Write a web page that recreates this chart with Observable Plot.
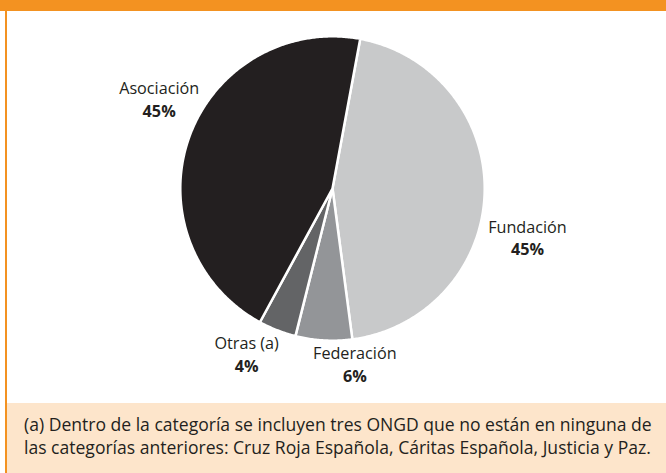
<!DOCTYPE html>
<html>
<head>
<meta charset="utf-8">
<script src="https://cdn.jsdelivr.net/npm/d3@7"></script>
<script src="https://cdn.jsdelivr.net/npm/@observablehq/plot@0.6"></script>
<style>
  html, body { margin: 0; padding: 0; background: #ffffff; }
  #frame { position: relative; width: 666px; height: 473px; overflow: hidden; background: #ffffff; font-family: "Open Sans", Lato, sans-serif; color: #231f20; }
  #topband { position: absolute; left: 0; top: 0; width: 666px; height: 11px; background: #f39221; }
  #leftline { position: absolute; left: 5px; top: 0; width: 2px; height: 473px; background: #f39221; }
  #chart { position: absolute; left: 0; top: 11px; }
  #note { position: absolute; left: 7px; top: 403px; width: 659px; height: 70px; background: #fde5cb; }
  #note p { position: absolute; left: 17px; top: 9.5px; margin: 0; font-size: 16px; line-height: 23px; color: #231f20; white-space: nowrap; }
</style>
</head>
<body>
<div id="frame">
  <div id="topband"></div>
  <div id="leftline"></div>
  <div id="chart"></div>
  <div id="note"><p id="notep">(a) Dentro de la categoría se incluyen tres ONGD que no están en ninguna de<br>las categorías anteriores: Cruz Roja Española, Cáritas Española, Justicia y Paz.</p></div>
</div>
<script>
// ---- data ----
const categories = ["Fundación", "Federación", "Otras (a)", "Asociación"];
const shares = [45, 6, 4, 45];
const pctLabels = ["45%", "6%", "4%", "45%"];
const sliceColors = ["#c8c9ca", "#939598", "#636466", "#231f20"];

// ---- layout ----
const W = 666, H = 392;          // svg size
const cx = 332, cy = 177;        // pie centre in svg pixels
const rpx = 151;                 // pie radius in pixels
const startDeg = 10.5;           // first slice starts just right of 12 o'clock
const labelNudge = {             // pixel offsets of label from slice rim midpoint
  "Fundación": [44, 35],
  "Federación": [31, 15],
  "Otras (a)": [-31, 15],
  "Asociación": [-31, -49]
};
const pctGap = 22.5;
const FONT = "'Open Sans', Lato, sans-serif";

// fit footnote first line to the reference width
(function fitNote() {
  const ctx = document.createElement("canvas").getContext("2d");
  ctx.font = "16px 'Open Sans'";
  const w = ctx.measureText("(a) Dentro de la categoría se incluyen tres ONGD que no están en ninguna de").width;
  const size = Math.max(14, Math.min(18, 16 * 628 / w));
  document.getElementById("notep").style.fontSize = size.toFixed(2) + "px";
})();

const rows = categories.map((c, i) => ({name: c, share: shares[i], pct: pctLabels[i]}));
const a0 = startDeg * Math.PI / 180;
const arcs = d3.pie().sort(null).value(d => d.share).startAngle(a0).endAngle(a0 + 2 * Math.PI)(rows);

const rr = 1 + 1.2 / rpx; // compensate for white stroke
const outline = [];
for (const s of arcs) {
  const name = s.data.name;
  outline.push({name, x: 0, y: 0});
  const n = Math.max(2, Math.ceil((s.endAngle - s.startAngle) / (Math.PI / 360)));
  for (let i = 0; i <= n; i++) {
    const a = s.startAngle + (s.endAngle - s.startAngle) * i / n;
    outline.push({name, x: rr * Math.sin(a), y: rr * Math.cos(a)});
  }
  outline.push({name, x: 0, y: 0});
}

const labels = arcs.map(s => {
  const m = (s.startAngle + s.endAngle) / 2;
  const [nx, ny] = labelNudge[s.data.name];
  const x = Math.sin(m) + nx / rpx;
  const y = Math.cos(m) - ny / rpx;
  return {name: s.data.name, pct: s.data.pct, x, y, y2: y - pctGap / rpx};
});

const chart = Plot.plot({
  width: W,
  height: H,
  margin: 0,
  x: {domain: [-cx / rpx, (W - cx) / rpx], axis: null},
  y: {domain: [-(H - cy) / rpx, cy / rpx], axis: null},
  color: {domain: categories, range: sliceColors},
  style: {background: "transparent", overflow: "visible"},
  marks: [
    Plot.line(outline, {x: "x", y: "y", z: "name", fill: "name", stroke: "white", strokeWidth: 2.5, strokeLinejoin: "round", curve: "linear"}),
    Plot.text(labels, {x: "x", y: "y", text: "name", fill: "#231f20", fontSize: 16.2, fontFamily: FONT}),
    Plot.text(labels, {x: "x", y: "y2", text: "pct", fill: "#231f20", fontSize: 16.2, fontWeight: "bold", fontFamily: FONT})
  ]
});
document.getElementById("chart").appendChild(chart);
</script>
</body>
</html>
